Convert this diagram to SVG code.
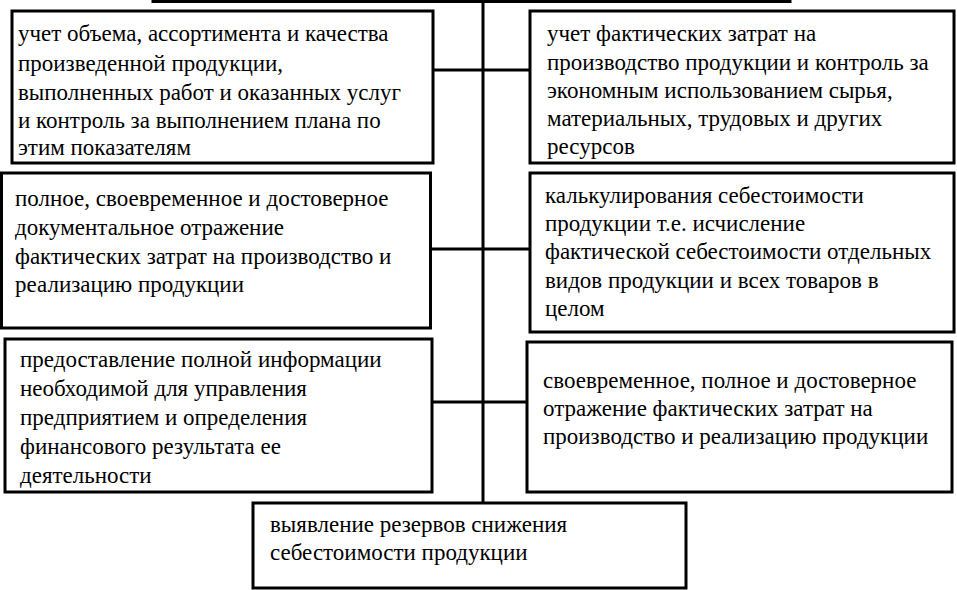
<svg xmlns="http://www.w3.org/2000/svg" width="957" height="590" viewBox="0 0 957 590">
<style>
.box{fill:#fff;stroke:#000;stroke-width:3}
.ln{stroke:#000;stroke-width:3;fill:none}
.t{font-family:'Liberation Serif','Times New Roman',serif;font-size:23px;fill:#000}
</style>
<rect x="0" y="0" width="957" height="590" fill="#fff"/>
<g id="connectors">
<line class="ln" x1="483" y1="0" x2="483" y2="503"/>
<line class="ln" x1="433" y1="70" x2="530" y2="70"/>
<line class="ln" x1="430" y1="249" x2="530" y2="249"/>
<line class="ln" x1="432" y1="402" x2="527" y2="402"/>
</g>
<g id="top-box">
<rect class="box" x="153" y="-100" width="637" height="101.5"/>
</g>
<g id="n1" class="t">
<rect class="box" x="12" y="11" width="421" height="152"/>
<text x="18" y="41">учет объема, ассортимента и качества</text>
<text x="18" y="71">произведенной продукции,</text>
<text x="18" y="100">выполненных работ и оказанных услуг</text>
<text x="18" y="128">и контроль за выполнением плана по</text>
<text x="18" y="155">этим показателям</text>
</g>
<g id="n2" class="t">
<rect class="box" x="530" y="11" width="424" height="152"/>
<text x="547" y="41">учет фактических затрат на</text>
<text x="547" y="70">производство продукции и контроль за</text>
<text x="547" y="98">экономным использованием сырья,</text>
<text x="547" y="126">материальных, трудовых и других</text>
<text x="547" y="154">ресурсов</text>
</g>
<g id="n3" class="t">
<rect class="box" x="1.5" y="173" width="429" height="155"/>
<text x="15" y="206">полное, своевременное и достоверное</text>
<text x="15" y="235">документальное отражение</text>
<text x="15" y="264">фактических затрат на производство и</text>
<text x="15" y="292">реализацию продукции</text>
</g>
<g id="n4" class="t">
<rect class="box" x="530" y="173" width="424" height="159"/>
<text x="545" y="203">калькулирования себестоимости</text>
<text x="545" y="231">продукции т.е. исчисление</text>
<text x="545" y="259">фактической себестоимости отдельных</text>
<text x="545" y="288">видов продукции и всех товаров в</text>
<text x="545" y="316">целом</text>
</g>
<g id="n5" class="t">
<rect class="box" x="5" y="339" width="427" height="153"/>
<text x="20" y="367">предоставление полной информации</text>
<text x="20" y="396">необходимой для управления</text>
<text x="20" y="425">предприятием и определения</text>
<text x="20" y="454">финансового результата ее</text>
<text x="20" y="483">деятельности</text>
</g>
<g id="n6" class="t">
<rect class="box" x="527" y="342" width="425" height="150"/>
<text x="543" y="388">своевременное, полное и достоверное</text>
<text x="543" y="416">отражение фактических затрат на</text>
<text x="543" y="444">производство и реализацию продукции</text>
</g>
<g id="n7" class="t">
<rect class="box" x="253" y="503" width="433" height="85"/>
<text x="270" y="532">выявление резервов снижения</text>
<text x="270" y="560">себестоимости продукции</text>
</g>
</svg>
